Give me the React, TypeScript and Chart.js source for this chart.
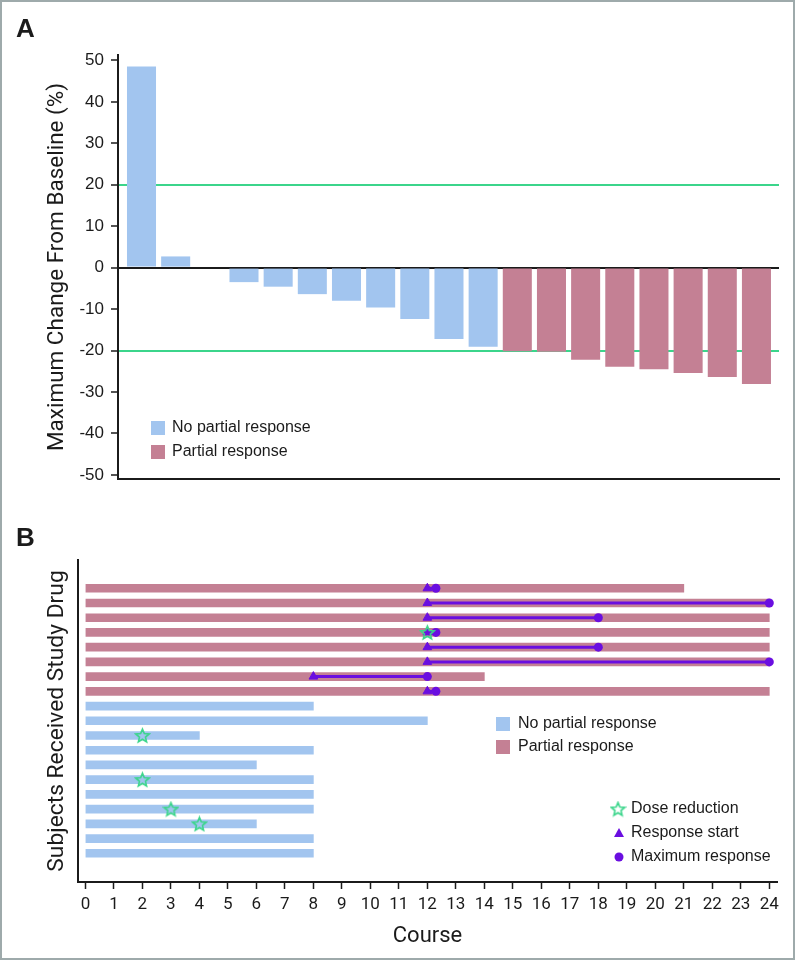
import React, { useEffect, useRef } from 'react';
import { Chart, registerables } from 'chart.js';

Chart.register(...registerables);

const TITLE_FONT = 'Roboto, "Liberation Sans", sans-serif';
const SANS = '"Liberation Sans", Arial, sans-serif';

const BLUE = '#a2c5ef';
const PINK = '#c48094';
const GREEN = '#3bd58b';
const PURPLE = '#6a0ee0';
const INK = '#1b1b1b';

// ---------- Panel A: maximum change from baseline (%) per subject ----------
const maxChangeFromBaseline = [
  48.5, 2.7, 0, -3.5, -4.6, -6.4, -8.0, -9.6, -12.4, -17.2, -19.1,
  -20.2, -20.3, -22.2, -23.9, -24.5, -25.4, -26.4, -28.1,
];
const responseGroupA = [
  'none', 'none', 'none', 'none', 'none', 'none', 'none', 'none', 'none', 'none', 'none',
  'pr', 'pr', 'pr', 'pr', 'pr', 'pr', 'pr', 'pr',
];
const changeTicks = [-50, -40, -30, -20, -10, 0, 10, 20, 30, 40, 50];
const thresholdLines = [20, -20];

// ---------- Panel B: courses received per subject (rows top to bottom) ----------
const responseGroupB = [
  'pr', 'pr', 'pr', 'pr', 'pr', 'pr', 'pr', 'pr',
  'none', 'none', 'none', 'none', 'none', 'none', 'none', 'none', 'none', 'none', 'none',
];
const coursesReceived = [21, 24, 24, 24, 24, 24, 14, 24, 8, 12, 4, 8, 6, 8, 8, 8, 6, 8, 8];
const responseRows = [0, 1, 2, 3, 4, 5, 6, 7];
const responseStartCourse = [12, 12, 12, 12, 12, 12, 8, 12];
const maxResponseCourse = [12.3, 24, 18, 12.3, 18, 24, 12, 12.3];
const doseReductionRows = [3, 10, 13, 15, 16];
const doseReductionCourse = [12, 2, 2, 3, 4];
const courseTicks = [0, 1, 2, 3, 4, 5, 6, 7, 8, 9, 10, 11, 12, 13, 14, 15, 16, 17, 18, 19, 20, 21, 22, 23, 24];

const groupColor = (g: string) => (g === 'pr' ? PINK : BLUE);

function makeStar(size: number, color: string): HTMLCanvasElement {
  const c = document.createElement('canvas');
  c.width = size;
  c.height = size;
  const g = c.getContext('2d')!;
  g.strokeStyle = color;
  g.lineWidth = 1.6;
  g.lineJoin = 'miter';
  const cx = size / 2;
  const cy = size / 2 + 0.6;
  const R = size / 2 - 1.5;
  const r = R * 0.45;
  g.beginPath();
  for (let i = 0; i < 10; i++) {
    const a = -Math.PI / 2 + (i * Math.PI) / 5;
    const rad = i % 2 === 0 ? R : r;
    const x = cx + rad * Math.cos(a);
    const y = cy + rad * Math.sin(a);
    if (i === 0) g.moveTo(x, y);
    else g.lineTo(x, y);
  }
  g.closePath();
  g.stroke();
  return c;
}

const legendA = {
  id: 'legendA',
  afterDraw(chart: any) {
    const ctx = chart.ctx;
    ctx.save();
    ctx.font = `16px ${SANS}`;
    ctx.textBaseline = 'middle';
    ctx.fillStyle = BLUE;
    ctx.fillRect(151, 421, 14, 14);
    ctx.fillStyle = PINK;
    ctx.fillRect(151, 445, 14, 14);
    ctx.fillStyle = INK;
    ctx.fillText('No partial response', 172, 428);
    ctx.fillText('Partial response', 172, 452);
    ctx.restore();
  },
};

function legendBPlugin(star: HTMLCanvasElement) {
  return {
    id: 'legendB',
    afterDraw(chart: any) {
      const ctx = chart.ctx;
      ctx.save();
      ctx.font = `16px ${SANS}`;
      ctx.textBaseline = 'middle';
      ctx.fillStyle = BLUE;
      ctx.fillRect(496, 217, 14, 14);
      ctx.fillStyle = PINK;
      ctx.fillRect(496, 240, 14, 14);
      ctx.fillStyle = INK;
      ctx.fillText('No partial response', 518, 224);
      ctx.fillText('Partial response', 518, 247);
      ctx.drawImage(star, 618 - star.width / 2, 309 - star.height / 2);
      ctx.fillStyle = PURPLE;
      ctx.beginPath();
      ctx.moveTo(619, 328);
      ctx.lineTo(624, 337);
      ctx.lineTo(614, 337);
      ctx.closePath();
      ctx.fill();
      ctx.beginPath();
      ctx.arc(619, 357, 4.5, 0, Math.PI * 2);
      ctx.fill();
      ctx.fillStyle = INK;
      ctx.fillText('Dose reduction', 631, 309);
      ctx.fillText('Response start', 631, 333);
      ctx.fillText('Maximum response', 631, 357);
      ctx.restore();
    },
  };
}

export default function App() {
  const refA = useRef<HTMLCanvasElement>(null);
  const refB = useRef<HTMLCanvasElement>(null);

  useEffect(() => {
    const star = makeStar(17, GREEN);

    const chartA = new Chart(refA.current!, {
      type: 'bar',
      data: {
        datasets: [
          {
            data: maxChangeFromBaseline.map((v, i) => ({ x: i, y: v })),
            backgroundColor: responseGroupA.map(groupColor),
            barPercentage: 0.85,
            categoryPercentage: 1,
            borderWidth: 0,
          } as any,
        ],
      },
      options: {
        animation: false,
        responsive: false,
        maintainAspectRatio: false,
        layout: { padding: { left: 0, top: 55, right: 16, bottom: 21 } },
        plugins: { legend: { display: false }, tooltip: { enabled: false } },
        scales: {
          x: {
            type: 'linear',
            min: -0.688,
            max: 18.66,
            offset: false,
            ticks: { display: false },
            grid: { display: false },
            border: { display: true, color: INK, width: 2 },
            afterFit: (s: any) => {
              s.height = 0;
            },
          },
          y: {
            type: 'linear',
            min: -51,
            max: 51.3,
            afterBuildTicks: (s: any) => {
              s.ticks = changeTicks.map((v) => ({ value: v }));
            },
            ticks: { font: { family: SANS, size: 17 }, color: INK, padding: 7 },
            grid: {
              color: (c: any) => {
                const v = c.tick ? c.tick.value : null;
                if (v === 0) return INK;
                if (thresholdLines.includes(v)) return GREEN;
                return 'rgba(0,0,0,0)';
              },
              lineWidth: 2,
              tickColor: INK,
              tickLength: 7,
              tickWidth: 1.5,
            },
            border: { display: true, color: INK, width: 2 },
            title: {
              display: true,
              text: 'Maximum Change From Baseline (%)',
              font: { family: TITLE_FONT, size: 22.5 },
              color: INK,
              padding: { top: 43.5, bottom: 0 },
            },
            afterFit: (s: any) => {
              s.width = 118;
            },
          },
        },
      } as any,
      plugins: [legendA],
    });

    const datasetsB: any[] = [
      {
        type: 'bar',
        indexAxis: 'y',
        data: coursesReceived.map((c, i) => ({ x: [0, c], y: i })),
        backgroundColor: responseGroupB.map(groupColor),
        barThickness: 8,
        borderWidth: 0,
        order: 10,
      },
      ...responseRows.map((row, k) => ({
        type: 'line',
        data: [
          { x: responseStartCourse[k], y: row },
          { x: maxResponseCourse[k], y: row },
        ],
        borderColor: PURPLE,
        borderWidth: 3,
        pointRadius: 0,
        fill: false,
        order: 5,
      })),
      {
        type: 'scatter',
        data: responseRows.map((row, k) => ({ x: responseStartCourse[k], y: row })),
        pointStyle: 'triangle',
        pointRadius: 5,
        backgroundColor: PURPLE,
        borderColor: PURPLE,
        borderWidth: 1,
        order: 3,
      },
      {
        type: 'scatter',
        data: responseRows.map((row, k) => ({ x: maxResponseCourse[k], y: row })),
        pointStyle: 'circle',
        pointRadius: 4.5,
        backgroundColor: PURPLE,
        borderColor: PURPLE,
        borderWidth: 0,
        order: 2,
      },
      {
        type: 'scatter',
        data: doseReductionRows.map((row, k) => ({ x: doseReductionCourse[k], y: row })),
        pointStyle: star,
        order: 1,
      },
    ];

    const chartB = new Chart(refB.current!, {
      type: 'bar',
      data: { datasets: datasetsB },
      options: {
        animation: false,
        responsive: false,
        maintainAspectRatio: false,
        layout: { padding: { left: 0, top: 60, right: 18, bottom: 0 } },
        plugins: { legend: { display: false }, tooltip: { enabled: false } },
        scales: {
          x: {
            type: 'linear',
            position: 'bottom',
            min: -0.26,
            max: 24.27,
            offset: false,
            afterBuildTicks: (s: any) => {
              s.ticks = courseTicks.map((v) => ({ value: v }));
            },
            ticks: {
              font: { family: TITLE_FONT, size: 17 },
              color: INK,
              padding: 6,
              maxRotation: 0,
              autoSkip: false,
            },
            grid: {
              drawOnChartArea: false,
              offset: false,
              color: INK,
              tickColor: INK,
              tickLength: 7,
              tickWidth: 1.5,
            },
            border: { display: true, color: INK, width: 2 },
            title: {
              display: true,
              text: 'Course',
              font: { family: TITLE_FONT, size: 22 },
              color: INK,
              padding: { top: 0, bottom: 10 },
            },
            afterFit: (s: any) => {
              s.height = 78;
            },
          },
          y: {
            type: 'linear',
            reverse: true,
            min: -1.92,
            max: 19.95,
            offset: false,
            ticks: { display: false },
            grid: { display: false },
            border: { display: true, color: INK, width: 2 },
            title: {
              display: true,
              text: 'Subjects Received Study Drug',
              font: { family: TITLE_FONT, size: 22.8 },
              color: INK,
              padding: { top: 43.3, bottom: 0 },
            },
            afterFit: (s: any) => {
              s.width = 78;
            },
          },
        },
      } as any,
      plugins: [legendBPlugin(star)],
    });

    return () => {
      chartA.destroy();
      chartB.destroy();
    };
  }, []);

  const letter: React.CSSProperties = {
    position: 'absolute',
    left: 16,
    fontFamily: SANS,
    fontWeight: 'bold',
    fontSize: 26,
    lineHeight: '26px',
    color: INK,
  };

  return (
    <div style={{ position: 'absolute', left: 0, top: 0, width: 795, height: 960, background: '#fff', overflow: 'hidden' }}>
      <canvas ref={refA} width={795} height={500} style={{ position: 'absolute', left: 0, top: 0, width: 795, height: 500, display: 'block' }} />
      <canvas ref={refB} width={795} height={460} style={{ position: 'absolute', left: 0, top: 500, width: 795, height: 460, display: 'block' }} />
      <div style={{ ...letter, top: 15 }}>A</div>
      <div style={{ ...letter, top: 524 }}>B</div>
      <div style={{ position: 'absolute', left: 0, top: 0, width: 795, height: 960, boxSizing: 'border-box', border: '2px solid #9eaaab', pointerEvents: 'none' }} />
    </div>
  );
}
